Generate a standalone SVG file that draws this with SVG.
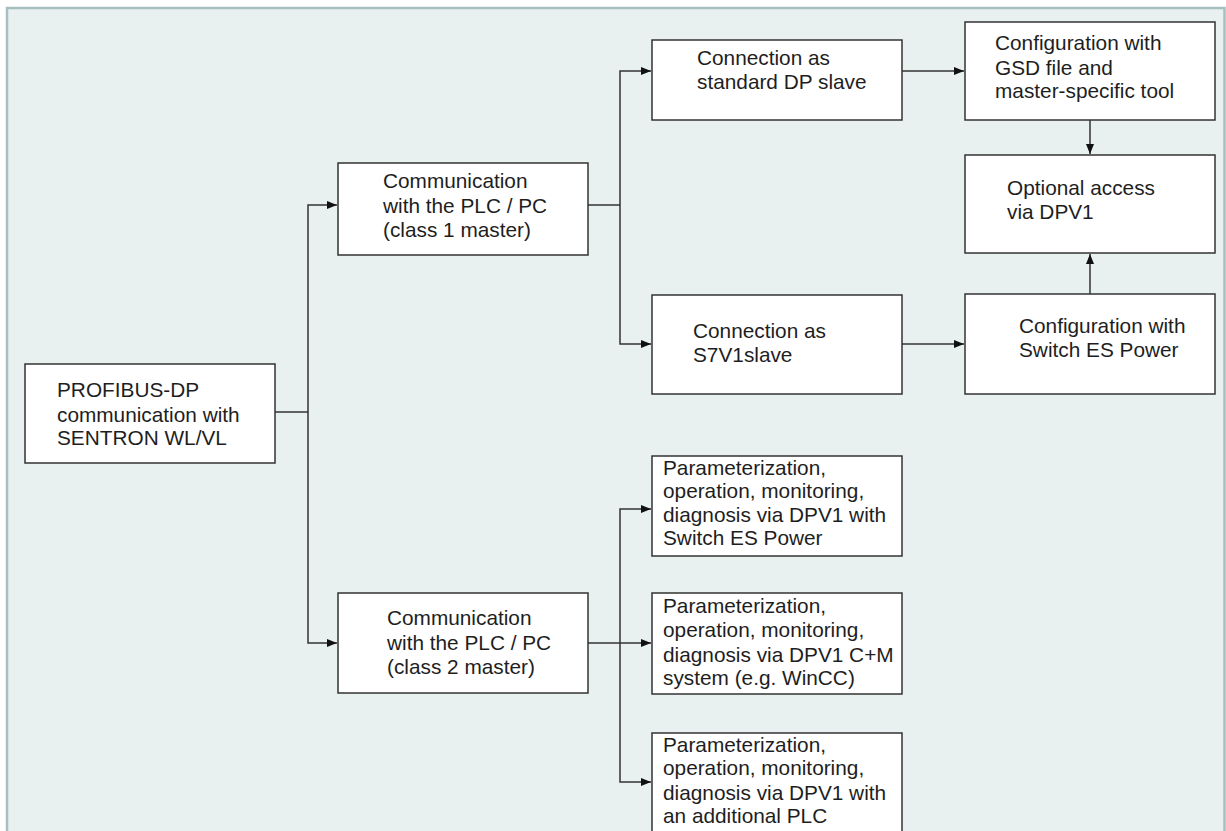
<svg xmlns="http://www.w3.org/2000/svg" width="1226" height="831" viewBox="0 0 1226 831">
<defs>
<style>
.bg{fill:#E8F1F0;stroke:#A6C0BF;stroke-width:2.5}
.box{fill:#FFFFFF;stroke:#333333;stroke-width:1.5}
.t{font-family:"Liberation Sans",Arial,sans-serif;font-size:20.8px;fill:#1E1E1E}
.c{fill:none;stroke:#333333;stroke-width:1.5}
</style>
<marker id="ah" viewBox="0 0 10 10" refX="10" refY="5" markerWidth="10" markerHeight="10" markerUnits="userSpaceOnUse" orient="auto">
<path d="M0,1 L10,5 L0,9 Z" fill="#111111"/>
</marker>
</defs>
<rect x="0" y="0" width="1226" height="831" fill="#FFFFFF"/>
<rect class="bg" x="7" y="8" width="1217.5" height="840"/>

<g id="connectors">
<polyline class="c" points="275,412 308,412"/>
<polyline class="c" points="308,412 308,205 337,205" marker-end="url(#ah)"/>
<polyline class="c" points="308,412 308,643 337,643" marker-end="url(#ah)"/>
<polyline class="c" points="588,205 620,205"/>
<polyline class="c" points="620,205 620,71 651,71" marker-end="url(#ah)"/>
<polyline class="c" points="620,205 620,344 651,344" marker-end="url(#ah)"/>
<polyline class="c" points="902,71 964,71" marker-end="url(#ah)"/>
<polyline class="c" points="902,344 964,344" marker-end="url(#ah)"/>
<polyline class="c" points="1090,120 1090,154" marker-end="url(#ah)"/>
<polyline class="c" points="1090,294 1090,254" marker-end="url(#ah)"/>
<polyline class="c" points="588,643 651,643" marker-end="url(#ah)"/>
<polyline class="c" points="620,643 620,509 651,509" marker-end="url(#ah)"/>
<polyline class="c" points="620,643 620,782 651,782" marker-end="url(#ah)"/>
</g>

<g id="n-profibus">
<rect class="box" x="25" y="364" width="250" height="99"/>
<text class="t" x="57" y="397">PROFIBUS-DP</text>
<text class="t" x="57" y="422">communication with</text>
<text class="t" x="57" y="445">SENTRON WL/VL</text>
</g>

<g id="n-class1">
<rect class="box" x="338" y="163" width="250" height="92"/>
<text class="t" x="383" y="188">Communication</text>
<text class="t" x="383" y="213">with the PLC / PC</text>
<text class="t" x="383" y="237">(class 1 master)</text>
</g>

<g id="n-class2">
<rect class="box" x="338" y="593" width="250" height="100"/>
<text class="t" x="387" y="625">Communication</text>
<text class="t" x="387" y="650">with the PLC / PC</text>
<text class="t" x="387" y="674">(class 2 master)</text>
</g>

<g id="n-dpslave">
<rect class="box" x="652" y="40" width="250" height="80"/>
<text class="t" x="697" y="65">Connection as</text>
<text class="t" x="697" y="89">standard DP slave</text>
</g>

<g id="n-s7v1">
<rect class="box" x="652" y="295" width="250" height="99"/>
<text class="t" x="693" y="338">Connection as</text>
<text class="t" x="693" y="362">S7V1slave</text>
</g>

<g id="n-gsd">
<rect class="box" x="965" y="22" width="250" height="98"/>
<text class="t" x="995" y="50">Configuration with</text>
<text class="t" x="995" y="75">GSD file and</text>
<text class="t" x="995" y="98">master-specific tool</text>
</g>

<g id="n-optional">
<rect class="box" x="965" y="155" width="250" height="98"/>
<text class="t" x="1007" y="195">Optional access</text>
<text class="t" x="1007" y="219">via DPV1</text>
</g>

<g id="n-switches">
<rect class="box" x="965" y="294" width="250" height="100"/>
<text class="t" x="1019" y="333">Configuration with</text>
<text class="t" x="1019" y="357">Switch ES Power</text>
</g>

<g id="n-param1">
<rect class="box" x="652" y="456" width="250" height="100"/>
<text class="t" x="663" y="475">Parameterization,</text>
<text class="t" x="663" y="498">operation, monitoring,</text>
<text class="t" x="663" y="522">diagnosis via DPV1 with</text>
<text class="t" x="663" y="545">Switch ES Power</text>
</g>

<g id="n-param2">
<rect class="box" x="652" y="593" width="250" height="101"/>
<text class="t" x="663" y="613">Parameterization,</text>
<text class="t" x="663" y="637">operation, monitoring,</text>
<text class="t" x="663" y="662">diagnosis via DPV1 C+M</text>
<text class="t" x="663" y="685">system (e.g. WinCC)</text>
</g>

<g id="n-param3">
<rect class="box" x="652" y="733" width="250" height="120"/>
<text class="t" x="663" y="752">Parameterization,</text>
<text class="t" x="663" y="775">operation, monitoring,</text>
<text class="t" x="663" y="800">diagnosis via DPV1 with</text>
<text class="t" x="663" y="823">an additional PLC</text>
</g>
</svg>
